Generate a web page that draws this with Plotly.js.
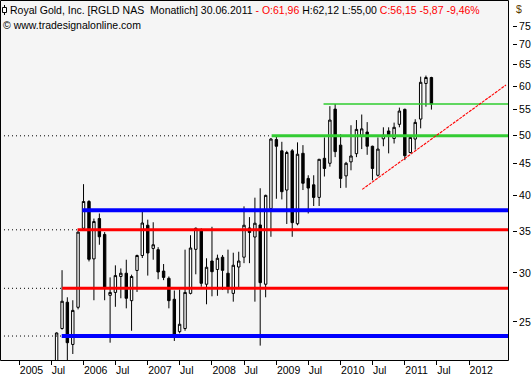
<!DOCTYPE html>
<html><head><meta charset="utf-8">
<script src="https://cdn.plot.ly/plotly-3.0.1.min.js"></script>
<style>html,body{margin:0;padding:0;background:#fff;}#chart{width:532px;height:380px;}</style>
</head><body><div id="chart"></div>
<script>
const months = ['2005-08-01','2005-09-01','2005-10-01','2005-11-01','2005-12-01',
 '2006-01-01','2006-02-01','2006-03-01','2006-04-01','2006-05-01','2006-06-01','2006-07-01','2006-08-01','2006-09-01','2006-10-01','2006-11-01','2006-12-01',
 '2007-01-01','2007-02-01','2007-03-01','2007-04-01','2007-05-01','2007-06-01','2007-07-01','2007-08-01','2007-09-01','2007-10-01','2007-11-01','2007-12-01',
 '2008-01-01','2008-02-01','2008-03-01','2008-04-01','2008-05-01','2008-06-01','2008-07-01','2008-08-01','2008-09-01','2008-10-01','2008-11-01','2008-12-01',
 '2009-01-01','2009-02-01','2009-03-01','2009-04-01','2009-05-01','2009-06-01','2009-07-01','2009-08-01','2009-09-01','2009-10-01','2009-11-01','2009-12-01',
 '2010-01-01','2010-02-01','2010-03-01','2010-04-01','2010-05-01','2010-06-01','2010-07-01','2010-08-01','2010-09-01','2010-10-01','2010-11-01','2010-12-01',
 '2011-01-01','2011-02-01','2011-03-01','2011-04-01','2011-05-01','2011-06-01'];
const openPrices = [21.0,24.4,26.9,23.0,26.4,
 35.4,39.1,31.6,36.7,34.6,27.6,27.9,29.6,29.96,27.06,30.27,32.0,
 35.8,32.85,32.7,30.2,29.4,27.2,24.12,24.4,27.8,32.74,35.2,28.76,
 31.35,30.38,31.8,29.96,27.8,30.66,31.8,35.44,34.27,35.84,28.76,38.1,
 49.2,47.2,40.8,47.2,36.0,46.76,42.6,41.6,39.7,45.9,45.06,55.1,
 48.2,43.0,45.3,46.7,50.0,50.6,48.0,43.1,49.35,50.8,49.4,52.07,
 55.05,46.9,49.3,53.1,60.6,61.96];
const highPrices = [24.05,30.3,27.4,27.1,35.0,
 41.7,39.3,36.7,37.4,34.9,29.5,30.85,30.5,31.5,29.8,32.1,37.65,
 36.55,36.2,33.0,31.0,29.6,28.1,28.2,32.7,34.5,35.5,35.4,31.67,
 35.6,32.1,32.06,32.7,32.33,32.45,38.4,36.9,39.66,41.07,40.1,49.5,
 49.7,48.8,47.2,47.5,48.7,48.2,43.1,43.1,45.8,49.6,55.7,56.15,
 50.2,45.3,51.9,52.9,54.0,52.5,48.1,49.6,51.5,51.5,52.4,55.4,
 55.2,50.0,53.06,62.15,62.4,62.12];
const lowPrices = [20.5,24.3,21.6,22.2,26.2,
 35.2,31.3,27.1,33.3,27.1,23.15,26.45,27.3,26.3,24.2,27.95,31.7,
 29.7,31.5,29.3,29.2,26.3,23.3,23.97,24.2,27.7,29.84,28.5,26.7,
 27.5,27.55,28.15,27.8,26.96,28.33,31.1,31.1,26.96,22.9,27.4,34.3,
 39.5,39.4,35.97,34.3,35.8,40.8,37.4,38.45,38.45,42.9,44.5,46.1,
 41.1,41.15,43.9,46.1,47.5,46.5,42.3,42.9,48.0,46.75,48.5,51.5,
 45.6,46.75,47.4,51.3,55.6,55.0];
const closePrices = [24.0,27.0,23.15,26.1,34.9,
 39.1,31.55,36.3,34.3,28.3,27.9,29.7,29.96,27.3,29.6,32.0,36.1,
 32.3,33.3,30.1,29.5,27.06,23.76,24.79,27.9,32.9,35.4,28.86,30.63,
 30.13,31.67,30.28,28.26,30.86,31.35,35.8,34.85,36.07,28.93,40.0,49.3,
 48.0,40.55,46.9,36.15,46.6,41.84,41.1,39.7,45.73,44.2,52.9,47.05,
 42.6,45.06,46.3,51.1,51.2,48.0,44.2,47.5,50.0,50.04,51.5,54.7,
 46.35,49.6,52.45,60.86,61.96,56.15];

// horizontal support / resistance levels
const levelValues = [23.73, 28.33, 35.2, 37.85, 49.9, 56.15];
const levelStarts = ['2005-08-30','2005-09-02','2005-11-28','2005-12-25','2008-12-05','2009-09-26'];
// trend line
const trendDates = ['2010-05-04','2012-07-29'];
const trendValues = [40.9, 60.26];

const tickDates = ['2005-01-01','2005-07-01','2006-01-01','2006-07-01','2007-01-01','2007-07-01','2008-01-01','2008-07-01',
 '2009-01-01','2009-07-01','2010-01-01','2010-07-01','2011-01-01','2011-07-01','2012-01-01'];
const tickLabels = ['2005','Jul','2006','Jul','2007','Jul','2008','Jul','2009','Jul','2010','Jul','2011','Jul','2012'];
const yTicks = [25,30,35,40,45,50,55,60,65,70,75];

const xRange = ['2004-09-13 07:00','2012-08-09 07:00'];
const yMin = 21.71, yMax = 82.61;

const levelStyles = [
  {color:'#0000ff', width:4, dotted:true},
  {color:'#ff0000', width:3, dotted:true},
  {color:'#ff0000', width:3, dotted:true},
  {color:'#0000ff', width:4, dotted:false},
  {color:'#33cc33', width:3, dotted:true},
  {color:'#2ecc2e', width:1.3, dotted:false}
];

const traces = [];
traces.push({
  type:'candlestick', x:months, open:openPrices, high:highPrices, low:lowPrices, close:closePrices,
  increasing:{line:{color:'#000000', width:1}, fillcolor:'#ffffff'},
  decreasing:{line:{color:'#000000', width:1}, fillcolor:'#000000'},
  whiskerwidth:0, hoverinfo:'skip', showlegend:false
});
levelValues.forEach((v,i)=>{
  const st = levelStyles[i];
  if(st.dotted){
    traces.push({type:'scatter', mode:'lines', x:[xRange[0], levelStarts[i]], y:[v,v],
      line:{color:'#000000', width:1, dash:'1px,3px'}, hoverinfo:'skip', showlegend:false});
  }
  traces.push({type:'scatter', mode:'lines', x:[levelStarts[i], xRange[1]], y:[v,v],
    line:{color:st.color, width:st.width}, hoverinfo:'skip', showlegend:false});
});
traces.push({type:'scatter', mode:'lines', x:trendDates, y:trendValues,
  line:{color:'#ff0000', width:1.1, dash:'3px,1px'}, hoverinfo:'skip', showlegend:false});

const W = 512, H = 360;
const px = v => v / W;
const py = v => (H - v) / H;
const fnt = {family:'Liberation Sans, Arial, sans-serif', size:10.5, color:'#000000'};

const layout = {
  width:532, height:380,
  margin:{l:0, r:20, t:0, b:20, pad:0},
  paper_bgcolor:'#ffffff', plot_bgcolor:'#f5f5f5',
  showlegend:false, hovermode:false,
  xaxis:{type:'date', domain:[0, 508/512], range:xRange, tickvals:tickDates, ticktext:tickLabels,
    ticks:'outside', ticklen:4, tickwidth:1, tickcolor:'#000000', ticklabelposition:'outside right',
    showgrid:false, zeroline:false, showline:false, rangeslider:{visible:false}, tickfont:fnt, fixedrange:true},
  yaxis:{type:'log', side:'right', anchor:'free', position:1, range:[Math.log10(yMin), Math.log10(yMax)],
    tickvals:yTicks, ticktext:yTicks.map(String), ticks:'outside', ticklen:4, tickwidth:1, tickcolor:'#000000',
    showgrid:false, zeroline:false, showline:false, tickfont:fnt, fixedrange:true},
  shapes:[
    {type:'rect', xref:'paper', yref:'paper', x0:px(0.5), x1:px(508.5), y0:py(360.5), y1:py(0.5),
      line:{color:'#000000', width:1}, fillcolor:'rgba(0,0,0,0)', layer:'above'},
    {type:'line', xref:'paper', yref:'paper', x0:px(4.5), x1:px(4.5), y0:py(15), y1:py(5),
      line:{color:'#000000', width:1}},
    {type:'rect', xref:'paper', yref:'paper', x0:px(2.5), x1:px(6.5), y0:py(12.5), y1:py(7.5),
      line:{color:'#000000', width:1}, fillcolor:'#ffffff'}
  ],
  annotations:[
    {xref:'paper', yref:'paper', x:px(8), y:py(10), xanchor:'left', yanchor:'middle', showarrow:false, font:fnt,
      text:'Royal Gold, Inc. [RGLD NAS&nbsp; Monatlich] 30.06.2011 <span style="color:#ff0000">- O:61,96</span> H:62,12 L:55,00 <span style="color:#ff0000">C:56,15 -5,87 -9,46%</span>'},
    {xref:'paper', yref:'paper', x:px(1), y:py(25.5), xanchor:'left', yanchor:'middle', showarrow:false, font:fnt,
      text:'© www.tradesignalonline.com'},
    {xref:'paper', yref:'paper', x:px(514), y:py(9), xanchor:'left', yanchor:'middle', showarrow:false,
      font:{family:'Liberation Sans, Arial, sans-serif', size:10.5, color:'#5a3a00'}, text:'$'}
  ]
};
Plotly.newPlot('chart', traces, layout, {staticPlot:true, displayModeBar:false});
</script></body></html>
